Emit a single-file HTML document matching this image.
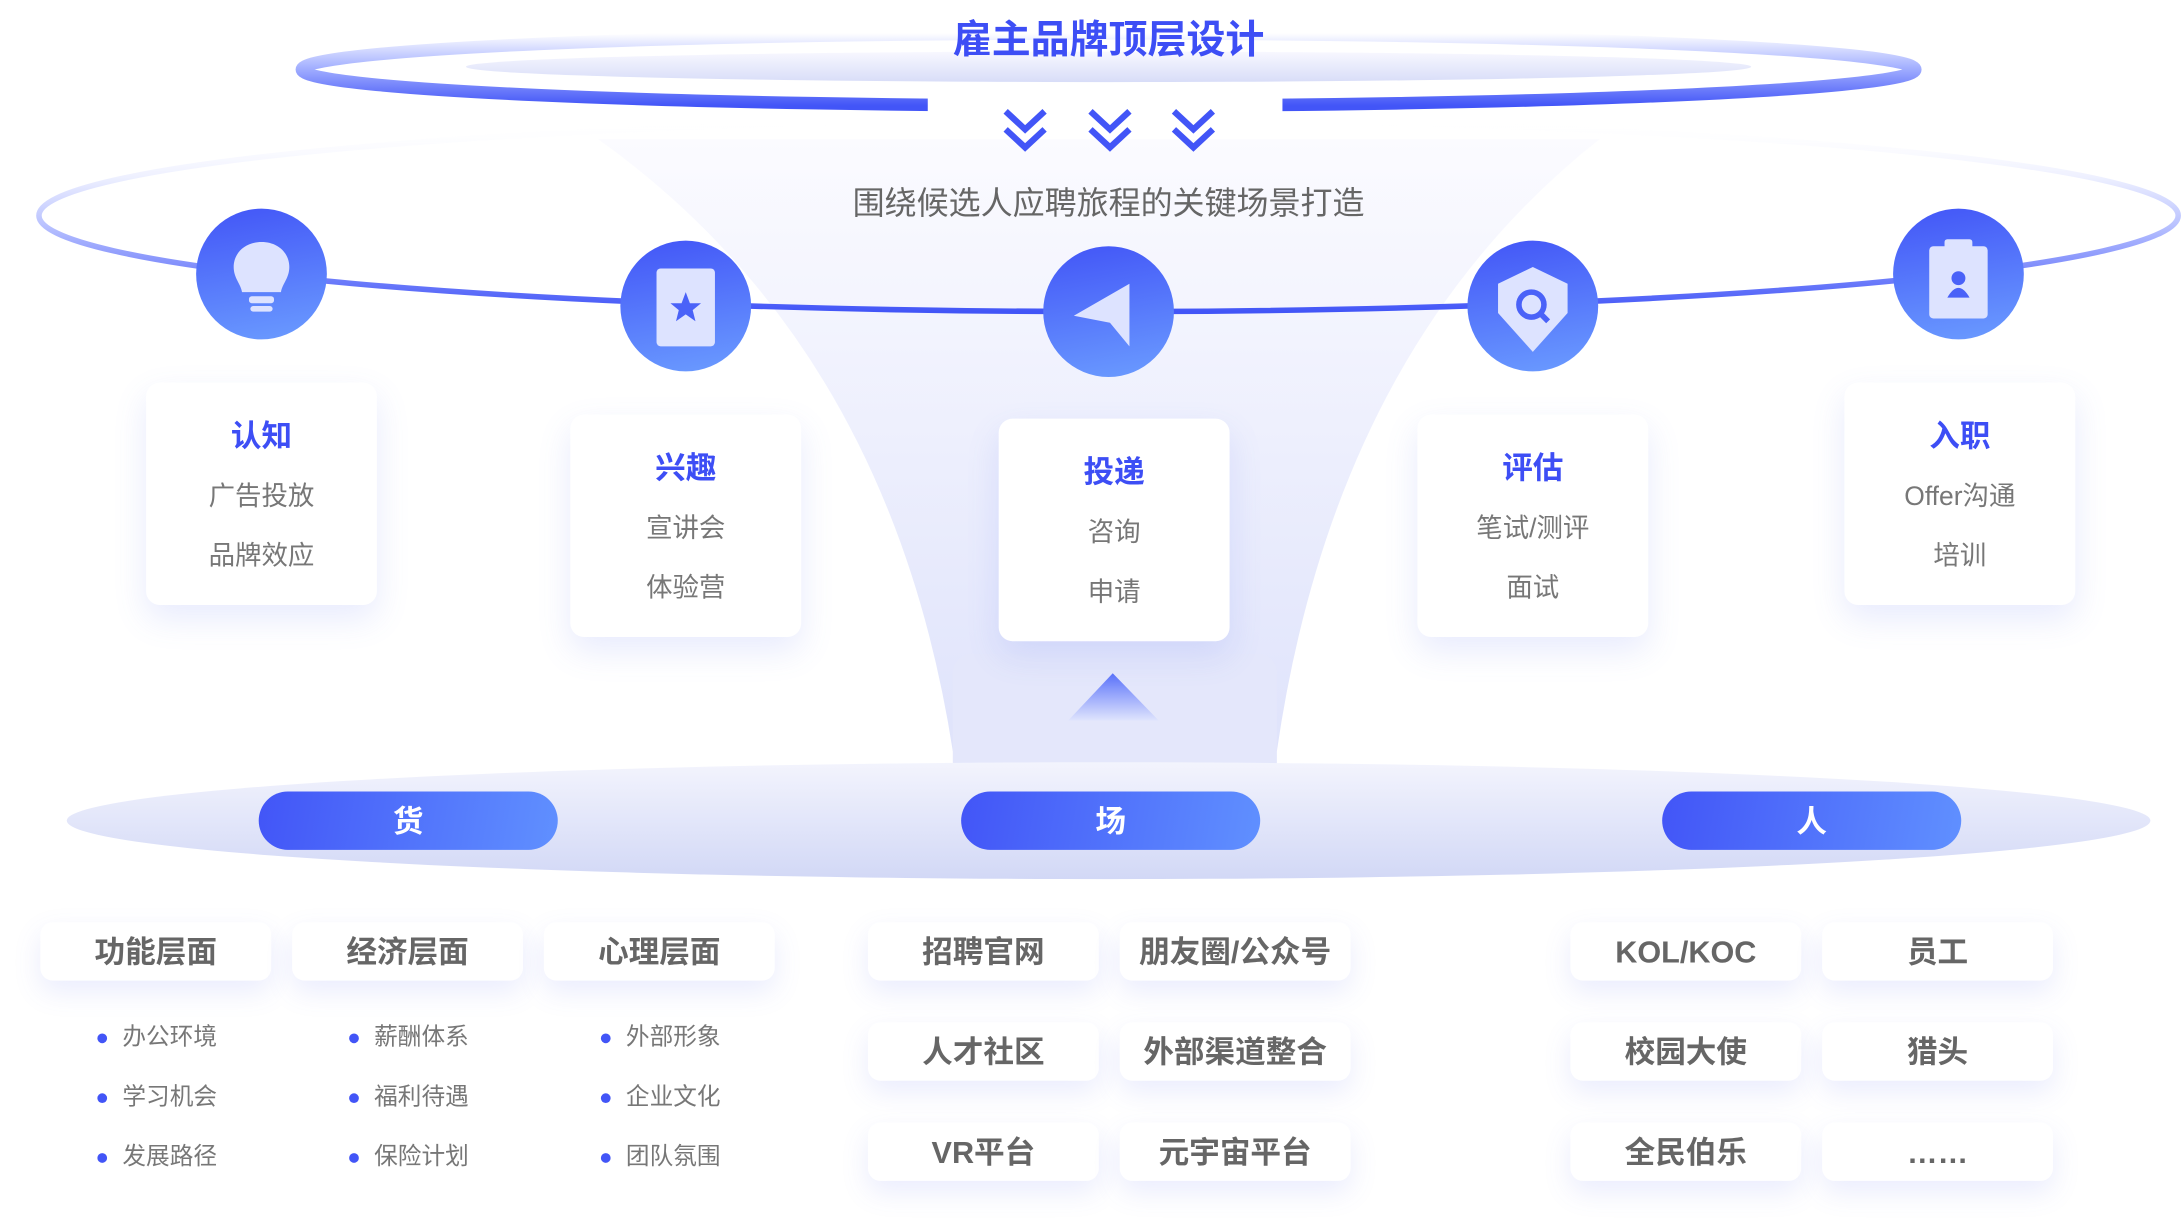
<!DOCTYPE html>
<html><head><meta charset="utf-8"><style>
html,body{margin:0;padding:0;background:#fff;width:2181px;height:1230px;overflow:hidden}
#s{position:absolute;left:0;top:0;width:1568px;height:884px;transform:scale(1.39094);transform-origin:0 0;font-family:"Liberation Sans","Noto Sans CJK SC",sans-serif}
.a{position:absolute}
.card{position:absolute;width:166px;height:160px;background:#fff;border-radius:10px;box-shadow:0 10px 24px rgba(90,110,240,.14);text-align:center}
.card b{display:block;color:#3d4ef5;font-size:22px;margin-top:21px;height:30px}
.card span{display:block;color:#777;font-size:19px;margin-top:16px;height:27px}
.circ{position:absolute;width:94px;height:94px;border-radius:50%;background:linear-gradient(170deg,#4255f7,#6b9cff)}
.pill{position:absolute;width:215px;height:42px;top:569px;border-radius:21px;background:linear-gradient(100deg,#4255f7,#6090ff);color:#fff;font-weight:bold;font-size:22px;text-align:center;line-height:44px}
.box{position:absolute;width:166px;height:42px;background:#fff;border-radius:9px;box-shadow:0 8px 20px rgba(90,110,240,.13);color:#666;font-weight:bold;font-size:22px;text-align:center;line-height:44px}
.li{position:absolute;color:#777;font-size:17px;line-height:20px}
.li:before{content:"";position:absolute;left:-18px;top:7px;width:7px;height:7px;border-radius:50%;background:#4255f7}
</style></head><body><div id="s">
<svg class="a" style="left:0;top:0" width="1568" height="884">
<defs>
<linearGradient id="fun" x1="0" y1="0" x2="0" y2="1"><stop offset="0" stop-color="#fbfbff"/><stop offset="1" stop-color="#dfe3fb"/></linearGradient>
<linearGradient id="disc" x1="0" y1="0" x2="0" y2="1"><stop offset="0" stop-color="#f3f4fd"/><stop offset="1" stop-color="#d2d8f6"/></linearGradient>
<linearGradient id="ring" x1="0" y1="0" x2="0" y2="1"><stop offset="0" stop-color="#ffffff"/><stop offset=".45" stop-color="#a8b4ff"/><stop offset="1" stop-color="#4255f7"/></linearGradient>
<linearGradient id="orb" x1="0" y1="0" x2="0" y2="1"><stop offset="0" stop-color="#ffffff" stop-opacity="0"/><stop offset=".3" stop-color="#eef0ff"/><stop offset=".55" stop-color="#b9c2ff"/><stop offset="1" stop-color="#4255f7"/></linearGradient>
<linearGradient id="tri" x1="0" y1="0" x2="0" y2="1"><stop offset="0" stop-color="#5a72fa"/><stop offset="1" stop-color="#dfe4fd"/></linearGradient>
<linearGradient id="inner" x1="0" y1="0" x2="0" y2="1"><stop offset="0" stop-color="#f8f8ff"/><stop offset="1" stop-color="#d8ddf8"/></linearGradient>
</defs>
<path d="M430 100 L1150 100 Q960 250 918 540 L685 540 Q640 250 430 100 Z" fill="url(#fun)"/>
<rect x="685" y="470" width="233" height="92" rx="14" fill="#e4e7fb"/>
<ellipse cx="797" cy="590" rx="749" ry="42" fill="url(#disc)"/>
<polygon points="768,518 800,484 833,518" fill="url(#tri)"/>
<ellipse cx="797" cy="48" rx="462" ry="11" fill="url(#inner)"/>
<ellipse cx="797" cy="50" rx="580" ry="26" fill="none" stroke="url(#ring)" stroke-width="9"/>
<rect x="667" y="60" width="255" height="30" fill="#fff"/>
<ellipse cx="797" cy="155" rx="769" ry="69" fill="none" stroke="url(#orb)" stroke-width="4"/>
<g fill="none" stroke="#4255f7" stroke-width="4.5">
<polyline points="723,80 737,93 751,80"/><polyline points="723,93 737,106 751,93"/>
<polyline points="784,80 798,93 812,80"/><polyline points="784,93 798,106 812,93"/>
<polyline points="844,80 858,93 872,80"/><polyline points="844,93 858,106 872,93"/>
</g>
</svg>
<div class="a" style="left:597px;top:7px;width:400px;text-align:center;color:#3d4ef5;font-weight:bold;font-size:28px">雇主品牌顶层设计</div>
<div class="a" style="left:547px;top:127px;width:500px;text-align:center;color:#666;font-size:23px">围绕候选人应聘旅程的关键场景打造</div>

<div class="circ" style="left:141px;top:150px"><svg width="94" height="94"><path d="M47 24c-12 0-20 8-20 18 0 8 5 12 6 18h28c1-6 6-10 6-18 0-10-8-18-20-18z" fill="#dde3ff"/><rect x="38" y="63" width="18" height="5" rx="2" fill="#dde3ff"/><rect x="39" y="70" width="16" height="4" rx="2" fill="#dde3ff"/></svg></div>
<div class="circ" style="left:446px;top:173px"><svg width="94" height="94"><rect x="26" y="20" width="42" height="56" rx="3" fill="#dde3ff"/><polygon points="47,37 50,45 58,45 52,50 54,58 47,53 40,58 42,50 36,45 44,45" fill="#4a62f8"/></svg></div>
<div class="circ" style="left:750px;top:177px"><svg width="94" height="94"><path d="M62 27 L22 50 L48 55 L62 72 Z" fill="#dde3ff"/></svg></div>
<div class="circ" style="left:1055px;top:173px"><svg width="94" height="94"><path d="M47 19 L72 31 L72 52 L47 80 L22 52 L22 31 Z" fill="#dde3ff"/><circle cx="46" cy="46" r="9" fill="none" stroke="#4a62f8" stroke-width="4"/><line x1="52" y1="52" x2="58" y2="58" stroke="#4a62f8" stroke-width="4"/></svg></div>
<div class="circ" style="left:1361px;top:150px"><svg width="94" height="94"><rect x="26" y="27" width="42" height="52" rx="3" fill="#dde3ff"/><rect x="37" y="22" width="20" height="10" rx="2" fill="#dde3ff"/><circle cx="47" cy="50" r="5" fill="#4a62f8"/><path d="M39 64 q8 -14 16 0z" fill="#4a62f8"/></svg></div>

<div class="card" style="left:105px;top:275px"><b>认知</b><span>广告投放</span><span>品牌效应</span></div>
<div class="card" style="left:410px;top:298px"><b>兴趣</b><span>宣讲会</span><span>体验营</span></div>
<div class="card" style="left:718px;top:301px"><b>投递</b><span>咨询</span><span>申请</span></div>
<div class="card" style="left:1019px;top:298px"><b>评估</b><span>笔试/测评</span><span>面试</span></div>
<div class="card" style="left:1326px;top:275px"><b>入职</b><span>Offer沟通</span><span>培训</span></div>

<div class="pill" style="left:186px">货</div>
<div class="pill" style="left:691px">场</div>
<div class="pill" style="left:1195px">人</div>

<div class="box" style="left:29px;top:663px">功能层面</div>
<div class="box" style="left:210px;top:663px">经济层面</div>
<div class="box" style="left:391px;top:663px">心理层面</div>
<div class="box" style="left:624px;top:663px">招聘官网</div>
<div class="box" style="left:805px;top:663px">朋友圈/公众号</div>
<div class="box" style="left:624px;top:735px">人才社区</div>
<div class="box" style="left:805px;top:735px">外部渠道整合</div>
<div class="box" style="left:624px;top:807px">VR平台</div>
<div class="box" style="left:805px;top:807px">元宇宙平台</div>
<div class="box" style="left:1129px;top:663px">KOL/KOC</div>
<div class="box" style="left:1310px;top:663px">员工</div>
<div class="box" style="left:1129px;top:735px">校园大使</div>
<div class="box" style="left:1310px;top:735px">猎头</div>
<div class="box" style="left:1129px;top:807px">全民伯乐</div>
<div class="box" style="left:1310px;top:807px">……</div>

<div class="li" style="left:88px;top:736px">办公环境</div>
<div class="li" style="left:88px;top:779px">学习机会</div>
<div class="li" style="left:88px;top:822px">发展路径</div>
<div class="li" style="left:269px;top:736px">薪酬体系</div>
<div class="li" style="left:269px;top:779px">福利待遇</div>
<div class="li" style="left:269px;top:822px">保险计划</div>
<div class="li" style="left:450px;top:736px">外部形象</div>
<div class="li" style="left:450px;top:779px">企业文化</div>
<div class="li" style="left:450px;top:822px">团队氛围</div>
</div></body></html>
